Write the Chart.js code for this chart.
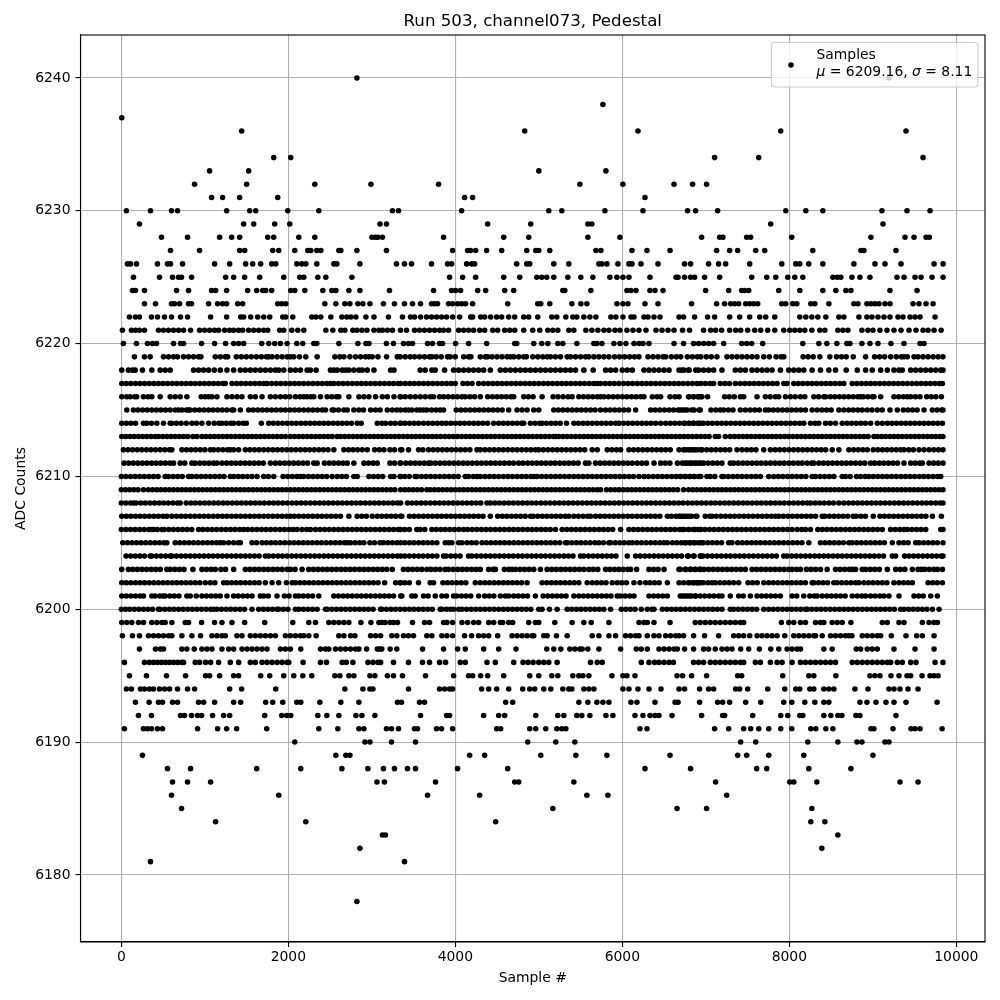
<!DOCTYPE html>
<html>
<head>
<meta charset="utf-8">
<title>Run 503, channel073, Pedestal</title>
<script src="https://cdn.jsdelivr.net/npm/chart.js@4"></script>
<style>
html,body{margin:0;padding:0;background:#fff}
#wrap{width:1000px;height:1000px}
</style>
</head>
<body>
<div id="wrap"><canvas id="scatter"></canvas></div>
<script>
var x_ticks = [0,2000,4000,6000,8000,10000];
var y_ticks = [6180,6190,6200,6210,6220,6230,6240];

// sample numbers, one list per ADC level
var levels = [6240,6238,6237,6236,6234,6233,6232,6231,6230,6229,6228,6227,6226,6225,6224,6223,6222,6221,6220,
  6219,6218,6217,6216,6215,6214,6213,6212,6211,6210,6209,6208,6207,6206,6205,6204,6203,6202,6201,6200,
  6199,6198,6197,6196,6195,6194,6193,6192,6191,6190,6189,6188,6187,6186,6185,6184,6183,6182,6181,6178];
var samples = [
[2821,9193],
[5767],
[5],
[1441,4831,6187,7897,9397],
[1825,2029,7105,7633,9601],
[1057,1525,5000,5803],
[877,1501,2317,2989,3799,5491,6007,6619,6841,7009],
[1081,1213,1417,1873,4111,4207,6271],
[61,349,601,673,1261,1537,1609,1993,2365,3247,3319,4075,5119,5275,5791,6247,6781,6877,7141,7957,8197,8401,9109,9409,9685],
[217,1465,1585,1837,2017,3097,3175,4387,4903,5587,5635,7777,9121],
[481,793,1177,1321,1417,1753,1825,2125,2317,3001,3041,3073,3127,3859,4579,4879,5587,5971,6949,7165,7205,7489,7537,8029,8977,9385,9493,9637,9677],
[589,937,1417,1477,1813,1885,2077,2233,2269,2341,2389,2605,2629,2821,3175,3967,4147,4183,4243,4375,4555,4855,4963,4999,5131,5683,5743,6115,6295,6571,7129,7285,7381,7597,7705,8281,8857,8893,9277],
[73,109,181,433,553,589,733,1117,1297,1489,1573,1669,1801,1849,2101,2161,2209,2341,2545,2581,2857,3295,3391,3475,3715,3907,3955,4135,4195,4231,4735,4855,4891,5179,5359,5719,5755,5815,5947,6079,6115,6223,6427,6745,6817,7033,7153,7237,7525,7909,8077,8125,8233,8401,8773,9025,9145,9337,9733,9841],
[145,457,613,685,721,841,1249,1345,1477,1657,1945,2137,2185,2353,2449,2761,3931,4087,4243,4579,4771,4975,5035,5095,5179,5347,5503,5647,5851,5935,6007,6079,6331,6643,6667,6745,6817,6865,6985,7165,7549,7729,7837,7981,8065,8161,8521,8573,8617,8749,8845,8965,9289,9373,9505,9577,9709,9841],
[133,169,277,661,805,1081,1129,1261,1513,1621,1693,1729,1801,2029,2077,2197,2413,2521,2569,2725,2857,3211,3739,3955,4003,4063,4267,4363,4591,4699,5287,5311,5623,6055,6103,6163,6331,6391,6487,6997,7273,7429,7465,7513,7873,8125,8401,8557,8677,8737,9205,9529],
[277,409,601,637,697,805,841,1045,1153,1213,1261,1393,1453,1873,1921,1969,2437,2569,2677,2737,2833,2893,2977,3139,3271,3391,3487,3583,3715,3751,3787,3919,3967,4027,4075,4123,4207,4627,4987,5023,5131,5395,5503,5575,5935,6007,6067,6271,6427,6829,7129,7225,7297,7345,7393,7477,7525,7573,7621,7909,7957,8041,8089,8257,8305,8473,8773,8821,8929,8977,9025,9073,9145,9205,9481,9553,9637,9721],
[97,169,217,361,433,517,601,709,793,1069,1261,1429,1465,1549,1633,1705,1777,1933,1969,2053,2281,2329,2389,2509,2641,2701,2749,2809,2929,3025,3199,3367,3463,3511,3583,3655,3715,3775,3835,3895,3967,4051,4183,4207,4303,4351,4423,4495,4555,4639,4711,4819,4879,4987,5155,5215,5323,5407,5455,5539,5611,5683,5863,5923,6007,6103,6139,6259,6307,6379,6451,6679,6733,6865,7021,7105,7285,7405,7525,7645,7717,7825,8125,8197,8269,8341,8437,8593,8653,8833,8929,8989,9061,9133,9205,9301,9361,9445,9505,9565,9745],
[13,121,169,217,277,445,505,565,625,685,745,829,937,997,1057,1117,1165,1237,1297,1345,1405,1453,1525,1585,1645,1705,1753,1897,1945,2041,2113,2185,2449,2533,2629,2677,2773,2821,2881,2941,3025,3085,3127,3187,3247,3343,3415,3511,3571,3631,3691,3751,3811,3859,3919,4039,4099,4159,4219,4291,4351,4447,4507,4591,4651,4711,4819,4927,5011,5107,5167,5227,5359,5419,5563,5635,5707,5779,5839,5911,5971,6055,6127,6199,6283,6403,6475,6547,6619,6721,6805,6973,7057,7117,7189,7285,7357,7417,7501,7585,7657,7741,7825,7933,8005,8065,8125,8185,8269,8365,8425,8581,8641,8701,8869,8941,9001,9085,9169,9253,9337,9433,9517,9601,9661,9733,9817],
[25,181,313,373,421,625,709,745,961,1117,1249,1345,1405,1465,1681,1765,1837,1905,1985,2101,2173,2305,2341,2605,2833,2929,2965,3175,3259,3379,3439,3487,3667,3727,3811,3847,4003,4159,4375,4711,4735,4939,5035,5107,5227,5287,5455,5659,5695,5755,5899,5971,6043,6139,6199,6247,6319,6619,6733,6853,6913,6973,7033,7093,7213,7429,7489,7549,7681,8161,8353,8449,8569,8689,8725,8869,8965,9061,9217,9373,9565,9613],
[157,277,345,505,565,625,673,745,805,865,925,953,1125,1185,1245,1273,1377,1437,1497,1557,1617,1677,1737,1765,1805,1865,1925,1985,2025,2065,2133,2209,2345,2557,2617,2665,2737,2805,2865,2925,2965,3005,3073,3177,3305,3339,3399,3459,3511,3571,3631,3691,3719,3771,3831,3907,3939,3999,4099,4159,4187,4299,4359,4387,4439,4499,4559,4619,4659,4699,4759,4819,4851,4927,4987,5047,5099,5139,5199,5259,5339,5379,5439,5499,5559,5599,5659,5719,5779,5839,5907,5967,6027,6087,6147,6199,6307,6367,6427,6487,6519,6587,6647,6699,6779,6839,6899,6939,7005,7065,7133,7253,7313,7373,7433,7493,7553,7613,7693,7761,7841,7901,7933,8165,8225,8285,8365,8485,8565,8625,8681,8765,8913,9021,9081,9141,9213,9281,9341,9373,9413,9493,9541,9601,9661,9721,9781,9840],
[5,85,135,165,253,365,465,525,585,865,925,985,1045,1113,1185,1265,1345,1425,1485,1545,1605,1665,1725,1785,1845,1885,1945,2025,2085,2145,2225,2265,2333,2505,2545,2585,2645,2685,2725,2785,2845,2885,2945,3025,3225,3265,3579,3639,3719,3759,3871,3979,4039,4099,4159,4219,4279,4339,4419,4539,4599,4659,4719,4779,4839,4899,4959,5019,5079,5139,5199,5259,5319,5379,5439,5539,5651,5799,5859,5919,5999,6059,6119,6259,6319,6379,6439,6499,6559,6679,6739,6799,6879,6713,6793,6913,6973,7033,7093,7193,7353,7413,7473,7553,7613,7673,7733,7793,7893,7993,8053,8113,8173,8273,8373,8473,8553,8681,8813,8913,8993,9093,9173,9253,9313,9353,9453,9513,9573,9633,9693,9753,9813,9840],
[5,60,115,170,225,280,335,390,445,500,555,610,665,720,775,830,885,940,995,1050,1105,1160,1215,1245,1325,1380,1435,1490,1545,1600,1655,1705,1745,1800,1855,1910,1965,2020,2075,2130,2185,2240,2295,2350,2405,2460,2505,2545,2600,2655,2710,2765,2820,2875,2930,2985,3040,3095,3150,3205,3260,3315,3345,3400,3455,3510,3565,3620,3675,3730,3785,3840,3895,3950,3999,4091,4146,4201,4279,4339,4394,4449,4504,4559,4614,4669,4724,4779,4834,4889,4944,4999,5054,5109,5164,5219,5274,5329,5384,5439,5494,5549,5604,5659,5699,5739,5794,5849,5904,5959,6014,6069,6124,6179,6234,6289,6344,6399,6454,6509,6564,6619,6674,6729,6784,6839,6894,6939,6994,7049,7093,7173,7228,7283,7353,7413,7468,7523,7578,7633,7688,7743,7798,7853,7933,7973,8053,8108,8163,8218,8273,8328,8383,8438,8493,8548,8603,8653,8753,8808,8863,8918,8973,9028,9083,9138,9193,9248,9303,9358,9413,9468,9523,9578,9633,9688,9743,9798,9833],
[5,65,105,160,185,265,320,365,465,585,645,705,785,957,1005,1045,1085,1145,1265,1325,1385,1445,1545,1605,1685,1785,1845,1905,1965,2017,2085,2140,2185,2225,2270,2305,2385,2465,2520,2575,2605,2725,2845,2905,2965,3045,3125,3185,3265,3345,3339,3400,3460,3520,3580,3640,3700,3739,3811,3859,3915,3970,4025,4079,4119,4175,4230,4299,4387,4445,4500,4555,4610,4665,4699,4819,4875,4931,5039,5171,5230,5290,5350,5399,5479,5535,5590,5645,5700,5739,5779,5835,5890,5945,6000,6055,6110,6165,6220,6259,6359,6415,6459,6571,6630,6679,6799,6855,6910,6939,6793,6850,6905,6953,7021,7225,7280,7340,7413,7453,7613,7713,7770,7833,7873,7953,8013,8070,8133,8185,8293,8350,8413,8433,8490,8545,8600,8655,8710,8765,8820,8853,8885,8940,8993,9013,9093,9253,9310,9365,9413,9453,9510,9565,9645,9700,9755,9821],
[65,145,200,255,310,365,420,475,530,585,645,685,725,780,805,825,880,935,990,1045,1100,1155,1210,1265,1325,1345,1425,1525,1580,1635,1690,1745,1800,1855,1910,1965,2020,2075,2130,2185,2240,2295,2350,2405,2445,2525,2545,2600,2665,2705,2785,2845,2900,2985,3045,3100,3185,3245,3300,3345,3400,3439,3479,3539,3579,3619,3659,3715,3770,3819,3859,4011,4066,4121,4176,4231,4286,4341,4396,4451,4506,4561,4639,4739,4799,4859,4939,4999,5179,5234,5289,5344,5399,5454,5509,5564,5619,5674,5739,5799,5854,5909,5964,6019,6074,6159,6339,6394,6449,6504,6559,6614,6669,6724,6779,6859,6919,6693,6750,6833,6933,7061,7120,7173,7213,7270,7325,7413,7473,7530,7585,7640,7713,7753,7808,7863,7918,7973,8028,8083,8138,8193,8273,8333,8390,8445,8500,8593,8653,8710,8765,8820,8873,8933,8990,9053,9113,9205,9293,9365,9420,9475,9530,9613,9713,9770,9825,9840],
[5,60,115,170,265,305,360,425,505,585,605,660,715,777,845,900,965,1045,1113,1170,1205,1257,1310,1345,1405,1460,1497,1677,1765,1820,1875,1930,1985,2040,2095,2150,2205,2260,2315,2370,2425,2480,2535,2590,2645,2700,2755,2825,2873,3065,3120,3165,3225,3280,3345,3339,3395,3450,3505,3559,3619,3675,3730,3785,3839,3891,3946,4001,4056,4111,4166,4221,4276,4331,4386,4459,4519,4574,4629,4684,4739,4794,4819,4899,4955,5010,5039,5091,5146,5201,5256,5331,5419,5474,5529,5584,5639,5694,5749,5804,5859,5919,5959,6014,6069,6124,6179,6234,6289,6344,6399,6459,6519,6574,6629,6684,6739,6794,6849,6904,6939,6748,6803,6858,6913,6968,7023,7078,7133,7188,7243,7298,7353,7408,7463,7518,7573,7628,7683,7738,7793,7848,7903,7958,8013,8068,8123,8173,8253,8308,8353,8433,8490,8553,8633,8690,8745,8800,8855,8910,8973,9053,9113,9173,9228,9283,9338,9393,9448,9503,9558,9613,9668,9723,9778,9833],
[5,55,105,155,205,255,305,355,405,445,495,545,595,645,695,745,795,857,905,965,1015,1065,1115,1165,1215,1265,1315,1365,1415,1465,1515,1565,1615,1665,1715,1765,1815,1865,1915,1965,2025,2075,2125,2175,2225,2275,2325,2375,2425,2475,2525,2585,2625,2675,2725,2775,2825,2875,2925,2975,3025,3075,3125,3175,3225,3275,3325,3375,3425,3475,3525,3575,3625,3675,3725,3775,3825,3875,3925,3975,4025,4075,4125,4175,4225,4275,4325,4375,4425,4475,4525,4575,4625,4675,4725,4775,4825,4875,4925,4975,5025,5075,5125,5175,5199,5239,5289,5339,5389,5439,5489,5539,5589,5639,5689,5739,5789,5839,5889,5939,5989,6039,6089,6139,6189,6239,6289,6339,6389,6439,6489,6539,6589,6639,6689,6739,6789,6839,6889,6939,6989,7039,7113,7153,7233,7293,7343,7393,7443,7493,7543,7593,7643,7693,7743,7793,7843,7893,7943,7993,8043,8093,8143,8193,8243,8293,8343,8393,8443,8493,8543,8593,8643,8693,8743,8793,8843,8893,8943,9013,9053,9103,9153,9203,9253,9303,9353,9403,9453,9503,9553,9603,9653,9703,9753,9803,9840],
[25,80,135,190,245,300,355,410,465,520,575,605,725,780,835,890,945,1000,1065,1105,1160,1215,1270,1305,1345,1405,1485,1540,1595,1650,1705,1760,1815,1870,1925,1980,2035,2090,2145,2200,2255,2310,2365,2420,2475,2545,2665,2720,2775,2830,2885,2945,3033,3090,3145,3217,3272,3345,3359,3439,3559,3611,3679,3734,3789,3844,3899,3954,4009,4064,4119,4174,4259,4299,4354,4409,4464,4519,4574,4629,4684,4739,4794,4849,4904,4959,4999,5054,5109,5164,5219,5274,5329,5384,5439,5494,5549,5639,5699,5819,5874,5929,5979,6079,6134,6189,6244,6299,6354,6409,6464,6519,6574,6679,6759,6814,6869,6939,6733,6790,6845,6900,6955,7010,7065,7120,7175,7230,7285,7373,7433,7490,7545,7600,7693,7773,7830,7885,7940,7995,8050,8105,8160,8215,8270,8325,8380,8435,8513,8593,8713,8770,8825,8880,8933,9005,9060,9115,9170,9225,9280,9333,9373,9430,9485,9553,9613,9673,9730,9785,9840],
[33,88,143,198,253,308,363,418,473,528,583,625,705,760,845,885,940,995,1050,1105,1145,1205,1260,1315,1370,1425,1480,1535,1590,1645,1700,1785,1845,1900,1955,2010,2065,2120,2175,2230,2305,2345,2433,2490,2545,2600,2655,2705,2785,2905,2960,3015,3065,3217,3272,3345,3339,3407,3462,3517,3572,3627,3679,3707,3762,3817,3872,3927,3982,4037,4092,4147,4202,4257,4312,4367,4422,4477,4532,4587,4642,4697,4759,4811,4866,4921,4976,5031,5086,5141,5196,5251,5306,5361,5416,5471,5559,5599,5679,5734,5789,5844,5899,5954,6009,6064,6119,6179,6234,6289,6379,6459,6514,6569,6659,6719,6774,6829,6884,6939,6753,6808,6863,6918,6973,7028,7083,7138,7193,7293,7333,7388,7443,7498,7553,7608,7663,7718,7773,7828,7883,7938,7993,8048,8103,8153,8213,8268,8293,8353,8408,8463,8518,8573,8628,8683,8738,8793,8848,8903,8973,9021,9076,9131,9186,9241,9296,9373,9453,9508,9563,9593,9673,9728,9783,9840],
[0,55,110,165,220,275,330,385,440,525,565,620,675,730,805,845,900,955,1010,1065,1120,1175,1230,1305,1345,1400,1455,1510,1565,1625,1705,1760,1825,1937,1992,2047,2102,2145,2185,2240,2295,2350,2405,2460,2525,2585,2640,2695,2785,2825,2965,3020,3075,3130,3225,3265,3345,3339,3394,3449,3519,3539,3594,3649,3704,3759,3814,3869,3924,3979,4034,4119,4159,4214,4259,4299,4354,4409,4464,4519,4574,4629,4684,4739,4794,4849,4904,4939,4979,5034,5089,5144,5199,5254,5309,5364,5419,5474,5529,5584,5639,5694,5749,5804,5859,5914,5969,6024,6079,6134,6199,6259,6314,6369,6424,6479,6534,6589,6644,6699,6754,6809,6864,6939,6693,6748,6803,6858,6913,7013,7053,7108,7193,7213,7268,7323,7378,7433,7488,7543,7598,7653,7753,7813,7868,7923,7978,8033,8088,8143,8198,8273,8313,8368,8423,8478,8533,8633,8673,8728,8805,8853,8908,8953,9005,9060,9115,9170,9225,9280,9335,9390,9445,9500,9555,9610,9665,9720,9775,9813],
[0,50,100,150,200,265,325,375,425,475,525,575,625,675,725,775,825,875,925,975,1025,1075,1125,1175,1225,1275,1325,1375,1425,1475,1525,1575,1625,1675,1725,1775,1825,1875,1925,1975,2025,2075,2125,2175,2225,2275,2325,2375,2425,2475,2525,2575,2625,2675,2725,2775,2825,2875,2925,2975,3025,3075,3125,3175,3225,3275,3345,3395,3445,3495,3545,3595,3659,3699,3749,3799,3849,3899,3949,3999,4049,4099,4149,4199,4249,4299,4349,4399,4449,4499,4549,4599,4649,4699,4749,4799,4849,4899,4949,4999,5049,5099,5149,5199,5249,5299,5349,5399,5449,5499,5549,5599,5649,5699,5739,5811,5861,5911,5961,6011,6061,6111,6161,6211,6261,6311,6361,6411,6461,6511,6561,6611,6661,6733,6793,6843,6893,6943,6993,7043,7093,7143,7193,7243,7293,7343,7393,7443,7493,7543,7593,7643,7693,7743,7793,7843,7893,7943,7993,8043,8093,8143,8193,8243,8293,8343,8393,8443,8493,8543,8593,8643,8693,8743,8793,8843,8893,8943,8993,9043,9093,9143,9193,9243,9293,9343,9393,9443,9493,9543,9593,9643,9693,9743,9793,9840],
[0,55,110,145,177,232,287,342,397,452,507,562,617,672,705,777,832,887,942,997,1052,1107,1162,1217,1272,1327,1382,1437,1492,1547,1602,1657,1712,1767,1822,1877,1932,1987,2042,2097,2152,2207,2262,2317,2372,2427,2482,2537,2592,2647,2702,2757,2812,2867,2922,2977,3032,3087,3142,3197,3252,3307,3345,3427,3479,3534,3589,3644,3699,3754,3809,3864,3919,3974,4029,4084,4139,4194,4249,4304,4379,4419,4474,4529,4584,4639,4694,4749,4804,4859,4914,4969,5024,5079,5134,5189,5244,5299,5354,5409,5464,5519,5574,5629,5684,5739,5794,5849,5904,5959,6014,6069,6124,6179,6234,6289,6344,6399,6454,6509,6564,6619,6674,6729,6784,6839,6894,6949,7004,7059,7114,7169,7224,7279,7334,7389,7444,7499,7554,7609,7664,7719,7774,7829,7884,7939,7994,8049,8104,8159,8213,8253,8308,8363,8418,8473,8528,8593,8653,8708,8763,8818,8873,8928,8983,9038,9093,9148,9203,9258,9313,9368,9423,9478,9533,9588,9643,9698,9753,9808,9840],
[5,60,115,170,225,280,335,390,445,500,545,605,660,715,770,825,880,935,990,1045,1100,1155,1210,1265,1320,1375,1430,1485,1540,1595,1650,1705,1760,1815,1870,1925,1980,2025,2073,2128,2183,2238,2293,2348,2403,2458,2513,2568,2625,2725,2825,2880,2935,3005,3065,3120,3175,3230,3285,3345,3359,3451,3506,3561,3616,3671,3726,3781,3836,3891,3946,4001,4056,4111,4166,4221,4276,4331,4419,4507,4562,4617,4672,4727,4782,4837,4899,4931,4986,5041,5096,5151,5206,5261,5316,5359,5419,5474,5529,5584,5619,5679,5734,5789,5844,5899,5954,6009,6064,6119,6174,6229,6284,6339,6394,6449,6539,6587,6642,6679,6719,6774,6829,6879,6693,6748,6803,6893,6993,7048,7073,7125,7180,7235,7290,7345,7400,7455,7510,7565,7620,7675,7730,7785,7833,7873,7928,7983,8038,8093,8148,8203,8258,8313,8393,8425,8480,8535,8590,8645,8700,8765,8801,8856,8911,9005,9085,9140,9195,9250,9305,9360,9415,9470,9525,9580,9635,9713,9821],
[0,55,110,165,220,275,330,365,385,430,485,513,568,623,678,733,788,843,925,977,1032,1087,1142,1197,1252,1307,1362,1417,1465,1513,1568,1623,1678,1733,1788,1843,1898,1953,2008,2057,2105,2165,2220,2265,2325,2380,2435,2490,2545,2600,2655,2710,2765,2820,2875,2930,2985,3040,3095,3150,3205,3260,3315,3345,3339,3394,3449,3539,3579,3634,3719,3771,3827,3879,3934,3989,4044,4099,4147,4202,4257,4312,4367,4422,4477,4532,4587,4642,4697,4752,4807,4862,4917,4972,5027,5082,5137,5199,5279,5334,5389,5444,5499,5554,5609,5664,5719,5774,5829,5884,5979,6079,6134,6189,6244,6299,6354,6409,6464,6519,6574,6629,6684,6739,6794,6849,6904,6939,6713,6793,6873,6933,6988,7043,7098,7153,7208,7263,7318,7373,7428,7483,7538,7593,7648,7703,7758,7813,7868,7923,7978,8033,8093,8148,8193,8253,8341,8396,8451,8506,8561,8616,8671,8726,8781,8836,8891,8946,9001,9056,9113,9213,9268,9323,9373,9413,9468,9523,9578,9633,9813,9840],
[17,72,127,182,237,292,347,402,457,512,545,645,700,755,810,865,920,975,1030,1085,1140,1185,1225,1285,1345,1400,1425,1565,1620,1685,1737,1792,1847,1902,1957,2012,2067,2122,2177,2232,2287,2342,2397,2452,2507,2562,2617,2672,2705,2745,2800,2855,2905,2977,3032,3097,3137,3192,3247,3302,3345,3394,3449,3504,3559,3614,3669,3724,3779,3879,3919,3959,4039,4079,4139,4194,4249,4319,4371,4426,4481,4536,4591,4646,4701,4756,4811,4866,4921,4976,5031,5086,5141,5196,5251,5319,5339,5394,5449,5504,5559,5614,5671,5719,5774,5839,5859,5914,5969,6024,6079,6119,6174,6229,6284,6339,6394,6449,6499,6539,6599,6651,6706,6761,6816,6871,6939,6748,6803,6858,6913,6968,7023,7078,7133,7188,7273,7313,7381,7436,7491,7546,7601,7656,7711,7766,7821,7876,7931,7986,8041,8096,8151,8233,8373,8428,8483,8538,8593,8648,8713,8753,8808,8863,8918,8973,9028,9083,9138,9233,9313,9368,9423,9513,9553,9608,9663,9718,9773,9840],
[57,112,167,222,277,345,365,420,475,530,585,605,660,715,770,825,880,935,990,1045,1100,1155,1210,1265,1320,1375,1430,1485,1540,1595,1650,1725,1765,1820,1875,1930,1985,2040,2095,2150,2205,2260,2315,2370,2425,2480,2535,2590,2645,2700,2755,2810,2865,2920,2975,3030,3085,3140,3195,3250,3305,3345,3394,3449,3504,3559,3614,3669,3724,3779,3859,3891,3946,4001,4056,4159,4199,4254,4309,4364,4419,4474,4529,4584,4639,4694,4749,4804,4859,4914,4969,5024,5079,5134,5189,5244,5299,5354,5409,5499,5539,5594,5649,5704,5759,5814,5869,5924,6059,6159,6214,6269,6324,6379,6434,6489,6544,6599,6654,6709,6779,6859,6939,6793,6853,6933,6965,7020,7075,7130,7185,7240,7295,7350,7405,7460,7515,7570,7625,7680,7735,7790,7845,7933,7973,8028,8083,8138,8193,8248,8303,8358,8413,8468,8523,8578,8633,8688,8743,8798,8853,8908,8963,9018,9073,9128,9233,9273,9381,9433,9488,9543,9598,9653,9708,9763,9818,9840],
[5,85,137,192,247,302,357,412,467,545,585,640,695,750,857,965,1020,1075,1125,1193,1248,1345,1485,1540,1595,1650,1705,1760,1815,1870,1925,1985,2025,2080,2165,2245,2300,2355,2410,2465,2520,2575,2630,2685,2740,2795,2850,2905,2960,3015,3070,3125,3180,3245,3379,3434,3489,3544,3599,3659,3707,3762,3817,3879,3919,3974,4029,4084,4139,4194,4249,4299,4399,4454,4479,4587,4642,4679,4719,4774,4829,4884,4939,5019,5099,5154,5209,5264,5319,5374,5429,5484,5539,5599,5651,5706,5799,5851,5906,5959,6011,6066,6099,6171,6319,6374,6429,6499,6679,6759,6819,6874,6939,6693,6753,6813,6868,6923,6978,7033,7088,7143,7198,7253,7308,7363,7418,7473,7553,7608,7663,7718,7773,7828,7883,7938,7993,8033,8088,8133,8205,8260,8315,8373,8453,8553,8608,8663,8718,8753,8793,8873,8913,8968,9023,9078,9173,9273,9328,9383,9473,9541,9581,9621,9676,9731,9773,9833],
[5,60,115,170,225,280,335,390,445,500,555,610,665,720,775,830,885,940,1005,1065,1120,1225,1265,1320,1375,1430,1485,1540,1595,1650,1725,1805,1885,1977,2045,2085,2140,2195,2250,2305,2360,2415,2470,2525,2580,2635,2690,2745,2800,2855,2910,2965,3020,3075,3153,3285,3345,3339,3394,3449,3559,3699,3739,3851,3906,3961,4016,4071,4126,4239,4299,4354,4409,4464,4519,4574,4629,4684,4739,4794,4859,5039,5094,5149,5204,5259,5314,5369,5424,5479,5579,5639,5694,5749,5804,5879,5939,5994,6049,6139,6211,6279,6331,6386,6441,6539,6679,6734,6789,6844,6899,6939,6805,6860,6893,6915,6970,7025,7073,7113,7168,7223,7278,7333,7393,7505,7560,7615,7693,7753,7808,7863,7918,7973,8028,8083,8138,8193,8273,8293,8348,8403,8458,8533,8573,8628,8683,8738,8793,8833,8893,8948,9003,9058,9113,9168,9253,9313,9368,9423,9473,9661,9716,9771,9833],
[5,60,115,170,225,265,365,405,460,497,525,580,635,690,785,825,897,965,1020,1075,1130,1185,1265,1345,1400,1455,1510,1565,1665,1705,1760,1865,1953,2008,2085,2125,2180,2235,2290,2365,2545,2600,2655,2710,2765,2820,2875,2930,2985,3040,3095,3150,3205,3260,3345,3359,3479,3519,3619,3674,3759,3839,3894,3979,4019,4074,4129,4184,4279,4351,4406,4461,4539,4599,4639,4699,4754,4809,4864,4959,5051,5106,5161,5216,5271,5326,5419,5479,5534,5589,5644,5699,5754,5809,5864,5939,5979,6034,6089,6139,6319,6374,6429,6484,6539,6719,6774,6829,6879,6693,6748,6803,6873,6933,6988,7043,7098,7153,7193,7293,7393,7448,7533,7613,7668,7723,7778,7833,7893,8033,8088,8173,8245,8300,8333,8393,8448,8503,8558,8613,8668,8753,8813,8868,8913,8973,9028,9083,9133,9193,9313,9493,9548,9603,9693,9773],
[0,50,100,155,210,265,320,375,445,465,520,575,630,685,740,795,850,905,960,1015,1070,1105,1145,1200,1255,1310,1365,1420,1475,1565,1645,1700,1755,1810,1865,1885,1940,1995,2085,2125,2180,2235,2290,2345,2445,2465,2520,2575,2630,2685,2740,2795,2850,2905,2960,3015,3105,3119,3174,3229,3284,3339,3394,3449,3504,3559,3614,3669,3724,3819,3839,3894,3939,3979,4039,4079,4134,4189,4244,4299,4354,4409,4464,4519,4574,4629,4684,4739,4794,4849,4904,4999,5039,5127,5219,5339,5394,5449,5504,5559,5614,5669,5724,5779,5859,5987,6042,6097,6152,6227,6299,6354,6379,6479,6534,6589,6644,6699,6754,6809,6864,6919,6974,7029,7084,7139,7194,7293,7333,7388,7443,7498,7553,7608,7693,7753,7808,7863,7918,7973,8028,8083,8138,8193,8213,8268,8323,8378,8433,8488,8543,8598,8653,8708,8763,8818,8873,8928,8983,9038,9093,9148,9203,9258,9333,9373,9428,9483,9538,9593,9648,9713,9793],
[5,65,125,205,265,365,425,485,525,605,765,805,961,1117,1205,1325,1477,1717,2053,2245,2325,2485,2545,2605,2665,2725,2869,2989,3085,3119,3159,3219,3259,3307,3487,3631,3691,3859,3899,3967,4079,4147,4219,4279,4399,4459,4539,4567,4639,4687,4879,4959,4999,5191,5399,5539,5627,5839,6199,6259,6299,6379,6571,6873,6933,6993,7053,7113,7173,7233,7293,7353,7413,7453,7905,7993,8053,8133,8193,8313,8373,8413,8513,8573,8633,8737,9113,9173,9313,9373,9593,9673,9733,9773],
[13,133,217,325,385,445,505,565,605,725,845,949,1085,1145,1205,1245,1385,1445,1545,1605,1665,1725,1785,1845,1965,2025,2085,2145,2185,2245,2333,2605,2665,2745,2797,2985,3045,3105,3239,3299,3379,3439,3499,3659,3719,3839,3899,3967,4111,4195,4279,4339,4399,4507,4679,4739,4799,4859,4919,4939,5059,5099,5211,5339,5639,5719,5839,5919,6039,6099,6159,6199,6299,6379,6439,6519,6579,6639,6679,6733,6853,6985,7153,7333,7393,7453,7525,7613,7673,7733,7793,7853,7945,8053,8113,8173,8233,8293,8313,8393,8493,8553,8613,8673,8713,8749,8873,8933,8993,9053,9093,9221,9397,9525,9593,9733],
[217,409,469,505,725,785,873,965,1025,1085,1205,1285,1345,1445,1505,1565,1625,1685,1745,1905,1965,2025,2149,2385,2445,2485,2565,2625,2685,2745,2805,2845,2937,3065,3095,3119,3219,3299,3607,3859,4027,4119,4339,4519,4727,5095,5179,5263,5371,5431,5491,5519,5587,5719,5979,6167,6227,6299,6439,6499,6559,6619,6659,6745,6853,6973,7033,7113,7193,7253,7313,7417,7513,7641,7777,7873,7973,8033,8093,8133,8413,8513,8801,8853,8933,8993,9053,9253,9505,9733],
[37,277,337,385,433,481,529,577,625,673,721,745,885,937,1009,1069,1165,1305,1405,1545,1605,1685,1745,1805,1865,1925,1985,2005,2177,2385,2457,2645,2693,2773,2953,3013,3073,3105,3259,3439,3607,3691,3811,3883,4059,4119,4379,4479,4699,4811,4871,4931,4999,5059,5119,5219,5619,5699,5759,6227,6319,6387,6439,6499,6559,6611,6853,6913,6973,7053,7113,7173,7233,7293,7353,7413,7453,7593,7653,7773,7853,7913,8033,8133,8193,8253,8313,8373,8433,8493,8553,8753,8813,8873,8933,8993,9053,9113,9173,9213,9293,9353,9453,9517,9745,9840],
[97,301,541,769,1009,1057,1177,1345,1405,1669,1777,1945,2065,2173,2281,2557,2617,2725,2785,2977,3037,3187,3259,3367,3643,3979,4159,4207,4303,4387,4579,4891,4999,5155,5227,5407,5479,5527,5599,5875,6007,6055,6151,6655,6721,6829,7009,7381,7429,7921,8233,8293,8557,8965,9025,9085,9217,9313,9409,9453,9589,9685,9733,9781],
[61,121,229,277,337,385,457,517,577,673,793,877,1297,1441,1849,2677,2893,2977,3013,3439,3811,3871,3931,3967,4315,4399,4495,4639,4807,4891,4951,5059,5143,5287,5359,5395,5539,5599,5659,6007,6079,6187,6319,6463,6679,6745,6925,7033,7093,7357,7405,7501,7741,7945,8077,8125,8245,8293,8413,8473,8533,8785,8941,9193,9253,9325,9421,9541],
[169,333,445,493,613,673,925,985,1117,1345,1429,1729,1813,1933,2101,2149,2377,2629,2845,3307,3355,3571,3631,4603,4687,5479,5587,5695,5767,5839,6103,6175,6391,6631,6667,6925,7141,7201,7285,7477,7657,7933,8029,8185,8305,8413,8473,8845,8929,9037,9157,9253,9397,9769],
[205,361,709,757,841,913,961,1093,1225,1297,1717,1921,1981,2029,2353,2461,2605,2809,2881,3037,3583,3895,3931,4339,4519,4591,4963,5227,5299,5455,5515,5611,5803,5887,6151,6247,6331,6391,6439,6595,6949,7201,7225,7561,7897,7981,8125,8161,8413,8497,8581,8629,8797,8845,9277],
[37,265,313,361,433,493,913,1153,1261,1381,1741,2365,2593,2845,2905,3175,3235,3319,3511,3547,3775,3835,3967,4495,4543,4891,4963,5083,5215,5275,5323,6211,6295,7105,7273,7453,7537,7633,7753,7897,8029,8257,8317,8437,8521,8977,9013,9241,9457,9505,9565,9829],
[2077,2917,2977,3235,3523,4867,5203,5431,7417,7597,8221,8581,8809,8869,9145,9193],
[253,2569,2689,2737,4171,4351,5023,5443,5815,6571,7381,7489,7753,8173,9001],
[553,829,1621,2149,2641,2953,3139,3271,3427,3523,4027,4627,6271,6817,7609,7729,8233,8737],
[613,793,1069,3061,3151,3763,4711,4759,5419,7117,8005,8053,8329,9325,9541],
[601,1885,3667,4291,5575,5827,7249],
[721,5167,6655,7009,8269],
[1129,2209,4483,8257,8425],
[3127,3163,8581],
[2857,8389],
[349,3391],
[2821]
];

var x_min = -489, x_max = 10343;
var y_min = 6174.95, y_max = 6243.23;
var font_name = "'DejaVu Sans'";

var points = [];
for(var i=0;i<levels.length;i++){
  for(var j=0;j<samples[i].length;j++){
    points.push({x:samples[i][j],y:levels[i]});
  }
}

// matplotlib style spines and legend box, chart.js legend can't do mixed italics
var legend_box = {
  id:'legend_box',
  afterDraw:function(chart){
    var c = chart.ctx;
    var a = chart.chartArea;
    c.save();
    c.strokeStyle = '#000';
    c.lineWidth = 1.1;
    c.strokeRect(a.left,a.top,a.right-a.left,a.bottom-a.top);
    c.beginPath();
    c.roundRect(771.5,42.5,206.5,44.5,3);
    c.fillStyle = 'rgba(255,255,255,0.8)';
    c.fill();
    c.strokeStyle = '#cccccc';
    c.stroke();
    c.fillStyle = '#000';
    c.beginPath();
    c.arc(791,65,2.78,0,Math.PI*2);
    c.fill();
    c.textBaseline = 'alphabetic';
    c.font = '13.9px '+font_name;
    c.fillText('Samples',816.5,59);
    var parts = [['\u03bc',true],[' = 6209.16, ',false],['\u03c3',true],[' = 8.11',false]];
    var px = 816.5;
    for(var k=0;k<parts.length;k++){
      c.font = (parts[k][1]?'italic ':'')+'13.9px '+font_name;
      c.fillText(parts[k][0],px,75.5);
      px += c.measureText(parts[k][0]).width;
    }
    c.restore();
  }
};

new Chart(document.getElementById('scatter'),{
  type:'scatter',
  data:{datasets:[{label:'Samples',data:points,backgroundColor:'#000',borderWidth:0,pointRadius:2.78,pointHoverRadius:2.78}]},
  plugins:[legend_box],
  options:{
    responsive:true,
    maintainAspectRatio:false,
    animation:false,
    layout:{padding:{top:0,right:15,bottom:13,left:13}},
    plugins:{
      legend:{display:false},
      tooltip:{enabled:false},
      title:{display:true,fullSize:false,text:'Run 503, channel073, Pedestal',color:'#000',font:{family:font_name,size:16.67,weight:'normal'},padding:{top:12,bottom:3}}
    },
    scales:{
      x:{
        type:'linear',min:x_min,max:x_max,
        afterBuildTicks:function(s){s.ticks=x_ticks.map(function(v){return {value:v}})},
        afterFit:function(s){s.height=45},
        grid:{color:'#b0b0b0',lineWidth:1.1,tickLength:5,tickColor:'#000',drawTicks:true},
        border:{color:'#000',width:1.1},
        ticks:{color:'#000',font:{family:font_name,size:13.9},maxRotation:0,padding:2,callback:function(v){return String(v)}},
        title:{display:true,text:'Sample #',color:'#000',font:{family:font_name,size:13.9},padding:{top:4,bottom:0}}
      },
      y:{
        type:'linear',min:y_min,max:y_max,
        afterBuildTicks:function(s){s.ticks=y_ticks.map(function(v){return {value:v}})},
        afterFit:function(s){s.width=67.5},
        grid:{color:'#b0b0b0',lineWidth:1.1,tickLength:5,tickColor:'#000',drawTicks:true},
        border:{color:'#000',width:1.1},
        ticks:{color:'#000',font:{family:font_name,size:13.9},padding:5,callback:function(v){return String(v)}},
        title:{display:true,text:'ADC Counts',color:'#000',font:{family:font_name,size:13.9},padding:{top:0,bottom:4}}
      }
    }
  }
});
</script>
</body>
</html>
